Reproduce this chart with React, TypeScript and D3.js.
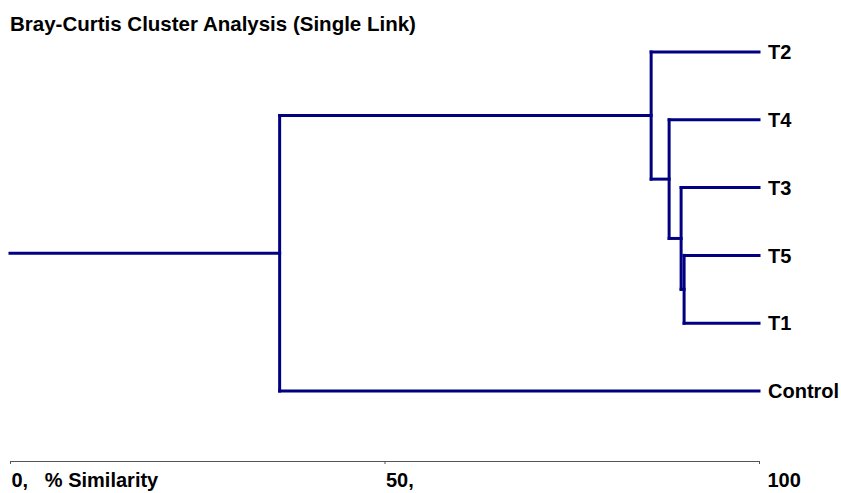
import * as d3 from "d3";
import { useEffect, useRef } from "react";

// leaf order top to bottom
const leafNames = ["T2", "T4", "T3", "T5", "T1", "Control"];

// merges: [left, right, % similarity]
const merges: [string, string, number][] = [
  ["T5", "T1", 90.0],
  ["T3", "T5+T1", 89.6],
  ["T4", "T3+T5+T1", 88.0],
  ["T2", "T4+T3+T5+T1", 85.6],
  ["T2+T4+T3+T5+T1", "Control", 36.0],
];

const tickValues = [0, 50, 100];
const tickLabels = ["0,   % Similarity", "50,", "100"];
const title = "Bray-Curtis Cluster Analysis (Single Link)";

interface Node {
  name: string;
  sim: number;
  children?: Node[];
}

function buildTree(): Node {
  const nodes: Record<string, Node> = {};
  leafNames.forEach((n) => (nodes[n] = { name: n, sim: 100 }));
  let last: Node = nodes[leafNames[0]];
  merges.forEach(([a, b, s]) => {
    const node = { name: a + "+" + b, sim: s, children: [nodes[a], nodes[b]] };
    nodes[node.name] = node;
    last = node;
  });
  return last;
}

export default function App() {
  const width = 841;
  const height = 493;
  const axisRef = useRef<SVGGElement>(null);
  const font = "Liberation Sans, Arial, sans-serif";

  const xScale = d3.scaleLinear().domain([0, 100]).range([10, 759]);
  const yScale = d3.scalePoint<string>().domain(leafNames).range([52, 391]);
  const axisY = 461;

  const root = d3.hierarchy<Node>(buildTree());
  // y position: leaves by scale, internal nodes at midpoint of children
  const ypos = new Map<d3.HierarchyNode<Node>, number>();
  root.eachAfter((d) => {
    if (!d.children) ypos.set(d, yScale(d.data.name) ?? 0);
    else ypos.set(d, (ypos.get(d.children[0])! + ypos.get(d.children[d.children.length - 1])!) / 2);
  });

  const paths: string[] = [];
  root.each((d) => {
    const y = ypos.get(d)!;
    const x = xScale(d.data.sim);
    if (d.children) {
      const ys = d.children.map((c) => ypos.get(c)!);
      const p = d3.path();
      p.moveTo(x, Math.min(...ys));
      p.lineTo(x, Math.max(...ys));
      paths.push(p.toString());
    }
    const px = d.parent ? xScale(d.parent.data.sim) : xScale(0);
    const h = d3.path();
    h.moveTo(px, y);
    h.lineTo(x, y);
    paths.push(h.toString());
  });

  useEffect(() => {
    const g = d3.select(axisRef.current);
    g.selectAll("*").remove();
    g.call(
      d3
        .axisBottom(xScale)
        .tickValues(tickValues)
        .tickSize(3)
        .tickSizeOuter(3)
        .tickFormat((_, i) => tickLabels[i])
    );
    g.select(".domain").attr("stroke", "#555").attr("stroke-width", 1);
    g.selectAll(".tick line").attr("stroke", "#555");
    g.selectAll<SVGTextElement, number>(".tick text")
      .attr("text-anchor", "start")
      .attr("x", (d) => (d === 100 ? 8 : 1))
      .attr("y", 26)
      .attr("dy", 0)
      .attr("fill", "#000")
      .style("white-space", "pre")
      .attr("font-size", 20)
      .attr("font-weight", "bold")
      .attr("font-family", font);
  }, []);

  return (
    <svg
      width={width}
      height={height}
      style={{ position: "absolute", left: 0, top: 0, background: "#fff" }}
      fontFamily={font}
    >
      <text x={10} y={31} fontSize={20.5} fontWeight="bold" fill="#000">
        {title}
      </text>
      {paths.map((d, i) => (
        <path key={i} d={d} fill="none" stroke="#000080" strokeWidth={3} strokeLinecap="square" />
      ))}
      {root.leaves().map((l) => (
        <text
          key={l.data.name}
          x={xScale(100) + 9}
          y={ypos.get(l)!}
          dy="0.36em"
          fontSize={20}
          fontWeight="bold"
          fill="#000"
        >
          {l.data.name}
        </text>
      ))}
      <g ref={axisRef} transform={`translate(0,${axisY})`} />
    </svg>
  );
}
